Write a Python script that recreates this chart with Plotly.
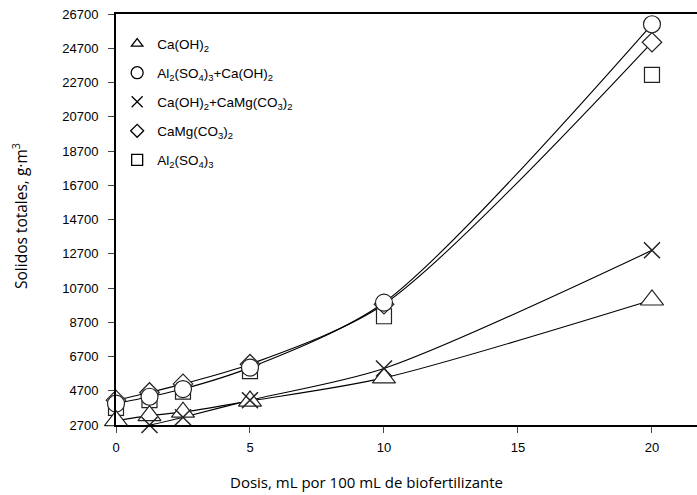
import plotly.graph_objects as go

dosis = [0, 1.25, 2.5, 5, 10, 20]

ca_oh2 = [2950, 3250, 3450, 4100, 5450, 10000]
al_ca = [3950, 4350, 4800, 6050, 9850, 26100]
ca_camg = [2500, 2700, 3150, 4150, 6000, 12900]
camg = [4150, 4600, 5100, 6250, 9750, 25050]
al = [3700, 4150, 4650, 5850, 9050, 23150]

y_ticks = [2700, 4700, 6700, 8700, 10700, 12700, 14700, 16700, 18700, 20700, 22700, 24700, 26700]
y_tick_labels = [str(v) for v in y_ticks]
x_ticks = [0, 5, 10, 15, 20]
x_tick_labels = ["0", "5", "10", "15", "20"]

names = [
    "Ca(OH)<sub>2</sub>",
    "Al<sub>2</sub>(SO<sub>4</sub>)<sub>3</sub>+Ca(OH)<sub>2</sub>",
    "Ca(OH)<sub>2</sub>+CaMg(CO<sub>3</sub>)<sub>2</sub>",
    "CaMg(CO<sub>3</sub>)<sub>2</sub>",
    "Al<sub>2</sub>(SO<sub>4</sub>)<sub>3</sub>",
]

EDGE = "#222222"
fig = go.Figure()

# curves
for ys in [al_ca, camg, ca_camg, ca_oh2]:
    fig.add_trace(go.Scatter(
        x=dosis, y=ys, mode="lines", line=dict(color="black", width=1.1, shape="spline", smoothing=0.8),
        showlegend=False, hoverinfo="skip", cliponaxis=False))

# markers
specs = [
    (al, "square", 15, 1.2),
    (camg, "diamond", 15, 1.2),
    (al_ca, "circle", 17, 1.2),
    (ca_oh2, "triangle-up", 20, 1.2),
]
for ys, sym, sz, lw in specs:
    fig.add_trace(go.Scatter(
        x=dosis, y=ys, mode="markers",
        marker=dict(symbol=sym, size=sz, color="white", line=dict(color=EDGE, width=lw)),
        showlegend=False, cliponaxis=False))
fig.add_trace(go.Scatter(
    x=dosis, y=ca_camg, mode="markers",
    marker=dict(symbol="x-thin-open", size=16, color=EDGE, line=dict(color=EDGE, width=1.5)),
    showlegend=False, cliponaxis=False))

# legend entries
leg_specs = [
    ("triangle-up-open", 10),
    ("circle-open", 12),
    ("x-thin-open", 11),
    ("diamond-open", 10),
    ("square-open", 11),
]
for i, (nm, (sym, sz)) in enumerate(zip(names, leg_specs)):
    fig.add_trace(go.Scatter(
        x=[None], y=[None], mode="markers", name=nm, legendgroup=f"g{i}",
        marker=dict(symbol=sym, size=sz, color="black", line=dict(color="black", width=1.3))))

fig.update_layout(
    width=697, height=495,
    margin=dict(l=116, r=0, t=14, b=70),
    plot_bgcolor="white", paper_bgcolor="white",
    font=dict(family="Liberation Sans, Arial, sans-serif", size=13, color="black"),
    showlegend=True,
    legend=dict(x=0.002, y=0.965, xanchor="left", yanchor="top",
                font=dict(size=13.5, family="Liberation Sans, Arial, sans-serif"),
                bgcolor="rgba(0,0,0,0)", tracegroupgap=8.5, itemwidth=30),
    xaxis=dict(range=[0, 21.68], tickvals=x_ticks, ticktext=x_tick_labels, ticks="outside",
               ticklen=6, tickwidth=1, automargin=False,
               showline=True, linecolor="black", linewidth=2, mirror=True, showgrid=False,
               zeroline=False, ticklabelstandoff=3),
    yaxis=dict(range=[2700, 26700], tickvals=y_ticks, ticktext=y_tick_labels, ticks="outside",
               ticklen=6, tickwidth=1, automargin=False,
               showline=True, linecolor="black", linewidth=2, showgrid=False, zeroline=False,
               ticklabelstandoff=7),
    annotations=[
        dict(text="Dosis, mL por 100 mL de biofertilizante", xref="paper", yref="paper",
             x=(366 - 116) / 581, y=-(482 - 425) / 411, xanchor="center", yanchor="middle",
             showarrow=False, font=dict(family="Open Sans, sans-serif", size=15)),
        dict(text="Solidos totales, g·m<sup>3</sup>", xref="paper", yref="paper",
             x=-(116 - 20) / 581, y=(425 - 216) / 411, xanchor="center", yanchor="middle",
             textangle=-90, showarrow=False, font=dict(family="Open Sans, sans-serif", size=15.5)),
    ],
)

fig.write_html("out.html", config={"displayModeBar": False},
               post_script="document.body.style.margin='0';document.body.style.overflow='hidden';")
